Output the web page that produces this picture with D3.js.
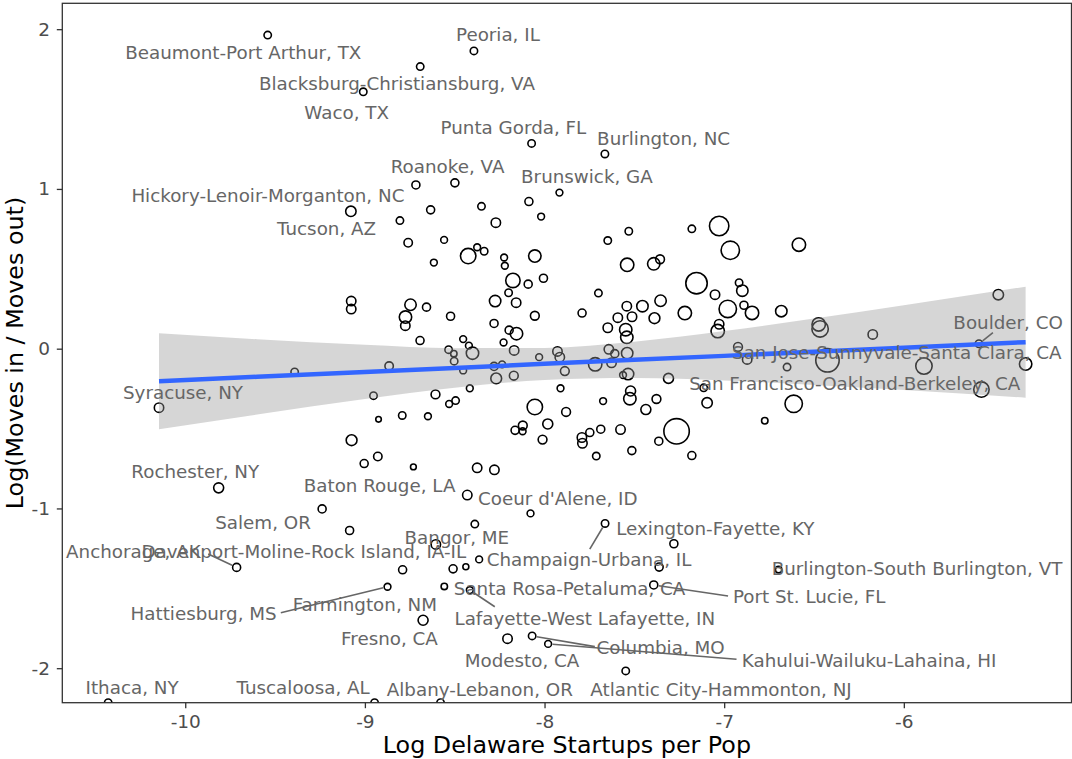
<!DOCTYPE html>
<html>
<head>
<meta charset="utf-8">
<script src="https://cdn.jsdelivr.net/npm/d3@7"></script>
<style>
  body { margin: 0; background: #fff; }
  svg { display: block; }
  text { font-family: "DejaVu Sans", sans-serif; }
</style>
</head>
<body>
<svg id="chart" width="1072" height="759"></svg>
<script>
// ---- data -------------------------------------------------------------
// Metro areas: log Delaware startups per population (x), log of moves in / moves out (y),
// metro population in thousands (point size). The first entries are the labelled metros,
// in the same order as labelNames. -Infinity = no recorded moves in (log 0).
const labelNames = [
  "Beaumont-Port Arthur, TX", "Peoria, IL", "Blacksburg-Christiansburg, VA", "Waco, TX",
  "Punta Gorda, FL", "Burlington, NC", "Roanoke, VA", "Brunswick, GA",
  "Hickory-Lenoir-Morganton, NC", "Tucson, AZ", "Boulder, CO",
  "San Jose-Sunnyvale-Santa Clara, CA", "San Francisco-Oakland-Berkeley, CA",
  "Syracuse, NY", "Rochester, NY", "Baton Rouge, LA", "Coeur d'Alene, ID", "Salem, OR",
  "Bangor, ME", "Lexington-Fayette, KY", "Champaign-Urbana, IL", "Anchorage, AK",
  "Davenport-Moline-Rock Island, IA-IL", "Hattiesburg, MS", "Farmington, NM", "Fresno, CA",
  "Santa Rosa-Petaluma, CA", "Lafayette-West Lafayette, IN", "Port St. Lucie, FL",
  "Burlington-South Burlington, VT", "Columbia, MO", "Kahului-Wailuku-Lahaina, HI",
  "Modesto, CA", "Atlantic City-Hammonton, NJ", "Ithaca, NY", "Tuscaloosa, AL",
  "Albany-Lebanon, OR"
];

const startupsLog = [
  -9.541, -8.393, -8.692, -9.009, -8.072, -7.664, -8.499, -7.917, -8.716, -9.078,
  -5.582, -5.322, -5.568, -10.146, -9.814, -8.730, -8.430, -9.238, -8.605, -7.280,
  -7.663, -9.714, -8.509, -8.874, -8.558, -8.676, -8.438, -8.416, -7.392, -6.697,
  -8.069, -7.980, -8.206, -7.548, -10.429, -8.946, -8.579,
  -8.634, -8.805, -8.759, -8.559, -8.351, -8.087, -8.271, -8.019, -8.375, -8.336,
  -8.425, -8.225, -8.054, -7.648, -7.531, -7.180, -7.028, -6.966, -6.584, -8.616,
  -8.221, -7.540, -7.392, -7.357, -8.176, -8.091, -8.006, -7.154, -8.200, -8.275,
  -8.158, -7.700, -7.542, -7.455, -7.354, -7.051, -6.917, -6.899, -6.890, -6.980,
  -6.845, -6.682, -9.076, -9.076, -8.746, -8.657, -8.523, -8.774, -8.775, -8.693,
  -8.534, -8.505, -8.503, -8.054, -7.791, -7.592, -7.513, -7.388, -7.219, -8.281,
  -8.197, -8.156, -7.648, -7.548, -7.542, -7.028, -7.036, -8.453, -8.421, -8.228,
  -8.401, -8.169, -7.928, -7.915, -8.030, -7.642, -7.609, -7.540, -7.627, -7.718,
  -6.923, -6.872, -6.650, -6.474, -6.466, -6.173, -5.474, -6.425, -5.888, -7.114,
  -7.095, -6.613, -6.774, -8.453, -8.281, -8.236, -7.887, -7.563, -7.535, -8.269,
  -8.171, -7.310, -8.416, -7.911, -8.607, -8.531, -8.495, -7.521, -7.525, -8.054,
  -7.674, -7.377, -8.792, -8.649, -7.880, -7.436, -7.982, -8.164, -8.121, -8.122,
  -8.011, -7.792, -7.789, -7.748, -7.687, -7.577, -7.265, -7.364, -7.514, -7.712,
  -7.180, -8.375, -8.279, -9.391, -8.865, -8.952, -8.924, -9.074, -8.928, -9.004,
  -9.085, -8.790, -8.078, -8.388, -8.364, -7.362
];

const moveRatioLog = [
  1.963, 1.864, 1.766, 1.608, 1.285, 1.219, 1.038, 0.977, 1.025, 0.860,
  0.031, -0.096, -0.256, -0.369, -0.871, -0.740, -0.916, -1.003, -1.225, -1.221,
  -1.094, -1.369, -1.378, -1.490, -1.488, -1.700, -1.365, -1.511, -1.479, -1.383,
  -1.798, -1.848, -1.815, -2.017, -Infinity, -Infinity, -Infinity,
  0.869, 0.802, 0.663, 0.681, 0.891, 0.921, 0.789, 0.827, 0.635, 0.610,
  0.580, 0.571, 0.580, 0.677, 0.735, 0.750, 0.768, 0.616, 0.651, 0.539,
  0.519, 0.525, 0.531, 0.560, 0.427, 0.404, 0.441, 0.410, 0.350, 0.298,
  0.288, 0.348, 0.266, 0.266, 0.300, 0.338, 0.413, 0.363, 0.272, 0.249,
  0.224, 0.235, 0.298, 0.248, 0.275, 0.260, 0.203, 0.198, 0.144, 0.051,
  -0.006, -0.031, -0.078, 0.206, 0.223, 0.194, 0.200, 0.191, 0.223, 0.158,
  0.116, 0.094, 0.131, 0.119, 0.071, 0.153, 0.110, 0.060, 0.019, 0.039,
  -0.028, -0.011, -0.017, -0.053, -0.053, -0.004, -0.031, -0.028, -0.088, -0.098,
  0.011, -0.067, -0.115, 0.152, 0.124, 0.089, 0.338, -0.073, -0.109, -0.245,
  -0.339, -0.345, -0.451, -0.136, -0.111, -0.098, -0.140, -0.165, -0.159, -0.186,
  -0.169, -0.186, -0.248, -0.248, -0.286, -0.346, -0.325, -0.265, -0.313, -0.365,
  -0.328, -0.315, -0.418, -0.423, -0.396, -0.381, -0.471, -0.511, -0.481, -0.517,
  -0.569, -0.556, -0.592, -0.525, -0.504, -0.506, -0.517, -0.579, -0.638, -0.672,
  -0.669, -0.746, -0.758, -0.146, -0.109, -0.294, -0.442, -0.573, -0.675, -0.719,
  -1.138, -1.384, -1.031, -1.098, -1.319, -1.367
];

const metroPop = [
  330, 330, 330, 330, 330, 330, 490, 200, 490, 1420,
  330, 2560, 4910, 970, 1230, 60, 970, 490, 970, 490,
  330, 490, 490, 200, 140, 1230, 80, 200, 490, 140,
  330, 200, 970, 330, 330, 330, 330,
  490, 330, 610, 200, 330, 490, 970, 200, 200, 330,
  4910, 200, 2560, 330, 330, 330, 9220, 8010, 3260, 200,
  200, 3260, 2560, 740, 4040, 490, 490, 11880, 330, 1950,
  970, 330, 970, 1950, 1950, 970, 330, 1950, 490, 6900,
  3260, 1950, 970, 970, 1950, 490, 490, 2560, 970, 490,
  330, 140, 330, 740, 490, 970, 970, 1620, 3260, 490,
  490, 2560, 970, 2560, 2560, 970, 3260, 200, 200, 200,
  2560, 970, 970, 970, 200, 970, 490, 1950, 970, 3260,
  740, 970, 330, 3260, 5860, 970, 1420, 14870, 5860, 330,
  1420, 6900, 140, 200, 490, 200, 740, 200, 1950, 1620,
  740, 1230, 200, 200, 740, 200, 330, 1230, 2560, 4910,
  200, 740, 330, 200, 740, 1230, 1230, 490, 740, 200,
  740, 970, 970, 490, 490, 970, 18210, 490, 490, 330,
  490, 970, 970, 330, 610, 330, 40, 1620, 610, 490,
  490, 490, 200, 330, 200, 490
];

// Linear fit with its 95% confidence band, sampled along x
const fitX  = [-10.146, -9.6, -9.0, -8.5, -8.0, -7.5, -7.0, -6.5, -6.0, -5.322];
const fitY  = [-0.204, -0.176, -0.146, -0.121, -0.095, -0.070, -0.045, -0.019, 0.006, 0.041];
const fitLo = [-0.504, -0.412, -0.315, -0.244, -0.196, -0.184, -0.199, -0.227, -0.259, -0.307];
const fitHi = [0.096, 0.059, 0.024, 0.003, 0.005, 0.044, 0.110, 0.189, 0.272, 0.388];

const xTicks = [-10, -9, -8, -7, -6];
const yTicks = [-2, -1, 0, 1, 2];
const xTitle = "Log Delaware Startups per Pop";
const yTitle = "Log(Moves in / Moves out)";

// ---- label placement (pixel offsets of label centre from its point;
//      sx/sy = start of the leader line relative to the point) ----------
const labelLayout = [
  [-24.4, 17.4], [24, -16.7], [-23.3, 17], [-16.6, 20.7], [-18.2, -16], [58.7, -16],
  [-7.3, -16.6], [27.5, -16.3], [-148, 10], [-24.3, 17.6], [29.2, -21, 14, -11],
  [-128.8, -12], [-126.7, -6], [24, -15.6], [-23.4, -16], [-33.8, 18.3], [90.5, 2.9],
  [-59.1, 13], [21, -7], [41.5, -15.4], [-16, 36, -15.3, 25.7], [-103.2, -15.6, -28.4, -13.3],
  [-149.3, -17], [-183.9, 26.6, -106.7, 26], [-79.5, 17.7], [-33.6, 18], [103.7, 21.6],
  [115, 28.3, 25, 16.7], [155.5, 11.7, 74.3, 11], [138.4, -1.2], [128.5, 11.3, 62.7, 10.7],
  [320.9, 16, 188.4, 15.3], [14.5, 22], [95.3, 18.3], [23.9, -15.4], [-71.4, -15.4],
  [39.3, -13.4]
];

// ---- layout -----------------------------------------------------------
const W = 1072, H = 759;
const panel = { left: 62.3, right: 1071.5, top: 3.3, bottom: 702.7 };

const svg = d3.select("#chart");
svg.append("rect").attr("width", W).attr("height", H).attr("fill", "#fff");

// scales with 5% expansion around the finite data range
const xExt = d3.extent(startupsLog);
const yExt = d3.extent(moveRatioLog.filter(Number.isFinite));
const xPad = (xExt[1] - xExt[0]) * 0.05;
const yPad = (yExt[1] - yExt[0]) * 0.05;
const x = d3.scaleLinear().domain([xExt[0] - xPad, xExt[1] + xPad]).range([panel.left, panel.right]);
const y = d3.scaleLinear().domain([yExt[0] - yPad, yExt[1] + yPad]).range([panel.bottom, panel.top]);
const yPos = v => (v === -Infinity ? y.range()[0] : v === Infinity ? y.range()[1] : y(v));
const r = d3.scaleSqrt().domain([0, 20000]).range([2.3, 13.2]);

svg.append("defs").append("clipPath").attr("id", "panel-clip")
  .append("rect")
  .attr("x", panel.left).attr("y", panel.top)
  .attr("width", panel.right - panel.left).attr("height", panel.bottom - panel.top);

const plot = svg.append("g").attr("clip-path", "url(#panel-clip)");

// points
const metros = startupsLog.map((v, i) => ({ x: v, y: moveRatioLog[i], pop: metroPop[i] }));
plot.append("g").selectAll("circle").data(metros).join("circle")
  .attr("cx", d => x(d.x))
  .attr("cy", d => yPos(d.y))
  .attr("r", d => r(d.pop))
  .attr("fill", "none")
  .attr("stroke", "#000")
  .attr("stroke-width", 1.6);

// confidence band and fitted line
const fit = fitX.map((v, i) => ({ x: v, y: fitY[i], lo: fitLo[i], hi: fitHi[i] }));
plot.append("path").datum(fit)
  .attr("d", d3.area().x(d => x(d.x)).y0(d => y(d.lo)).y1(d => y(d.hi)).curve(d3.curveMonotoneX))
  .attr("fill", "#999999").attr("fill-opacity", 0.4);
plot.append("path").datum(fit)
  .attr("d", d3.line().x(d => x(d.x)).y(d => y(d.y)))
  .attr("fill", "none").attr("stroke", "#3366FF").attr("stroke-width", 4.5);

// leader lines and labels
const labelG = svg.append("g");
labelNames.forEach((name, i) => {
  const px = x(startupsLog[i]), py = yPos(moveRatioLog[i]);
  const [dx, dy, sx, sy] = labelLayout[i];
  if (sx !== undefined) {
    const rad = r(metroPop[i]) + 1;
    const len = Math.hypot(sx, sy);
    labelG.append("line")
      .attr("x1", px + sx).attr("y1", py + sy)
      .attr("x2", px + sx / len * rad).attr("y2", py + sy / len * rad)
      .attr("stroke", "#666666").attr("stroke-width", 1.6);
  }
  labelG.append("text")
    .attr("x", px + dx).attr("y", py + dy + 6.6)
    .attr("text-anchor", "middle")
    .attr("font-size", 18.3).attr("fill", "#666666")
    .text(name);
});

// panel border
svg.append("rect")
  .attr("x", panel.left).attr("y", panel.top)
  .attr("width", panel.right - panel.left).attr("height", panel.bottom - panel.top)
  .attr("fill", "none").attr("stroke", "#333333").attr("stroke-width", 1.3);

// axes
const xAxis = svg.append("g").attr("transform", `translate(0,${panel.bottom})`)
  .call(d3.axisBottom(x).tickValues(xTicks).tickFormat(d3.format("d")).tickSize(5.5).tickPadding(6.8));
const yAxis = svg.append("g").attr("transform", `translate(${panel.left},0)`)
  .call(d3.axisLeft(y).tickValues(yTicks).tickFormat(d3.format("d")).tickSize(5.5).tickPadding(6.8));
[xAxis, yAxis].forEach(g => {
  g.select(".domain").remove();
  g.selectAll(".tick line").attr("stroke", "#333333").attr("stroke-width", 1.3);
  g.selectAll(".tick text")
    .attr("fill", "#4D4D4D").attr("font-size", 18.5)
    .attr("font-family", "DejaVu Sans, sans-serif")
    .text(d => (d < 0 ? "-" + Math.abs(d) : String(d)));
});

// axis titles
svg.append("text")
  .attr("x", (panel.left + panel.right) / 2).attr("y", 753.3)
  .attr("text-anchor", "middle").attr("font-size", 23.8).attr("fill", "#000")
  .text(xTitle);
svg.append("text")
  .attr("transform", `translate(22.7,${(panel.top + panel.bottom) / 2}) rotate(-90)`)
  .attr("text-anchor", "middle").attr("font-size", 23.8).attr("fill", "#000")
  .text(yTitle);
</script>
</body>
</html>
